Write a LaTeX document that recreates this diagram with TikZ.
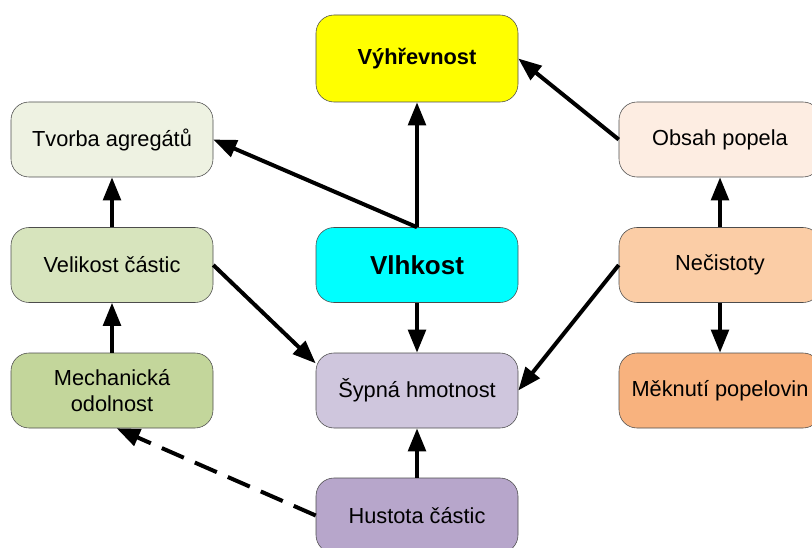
\documentclass[tikz,border=0pt]{standalone}
\usepackage{fontspec}
\setmainfont{Liberation Sans}
\usetikzlibrary{arrows.meta}
\definecolor{vyhcol}{HTML}{FFFF00}
\definecolor{vlhcol}{HTML}{00FFFF}
\definecolor{tvocol}{HTML}{EEF2E2}
\definecolor{velcol}{HTML}{D7E4BD}
\definecolor{mechcol}{HTML}{C3D69B}
\definecolor{sypcol}{HTML}{CFC6DD}
\definecolor{huscol}{HTML}{B7A6CB}
\definecolor{obscol}{HTML}{FDEDE2}
\definecolor{neccol}{HTML}{FBCDA6}
\definecolor{mekcol}{HTML}{F8B27E}

\begin{document}
\begin{tikzpicture}[
        box/.style={draw=black!70, rounded corners=0.45cm, minimum width=5.05cm,
            minimum height=1.875cm, align=center, font=\fontsize{15.5}{18.5}\selectfont},
        arr/.style={line width=0.1cm, -{Triangle[length=0.58cm,width=0.44cm]}}]
                \useasboundingbox (0,0) rectangle (20.3,13.675);
                % top row
                \node[box, fill=vyhcol, minimum height=2.175cm, font=\fontsize{15.5}{18.5}\selectfont\bfseries] (vyh) at (10.425,12.2125) {Výhřevnost};
                \node[box, fill=tvocol] (tvo) at (2.8,10.1875) {Tvorba agregátů};
                \node[box, fill=obscol] (obs) at (18,10.1875) {Obsah popela};
                % middle row
                \node[box, fill=velcol] (vel) at (2.8,7.05) {Velikost částic};
                \node[box, fill=vlhcol, font=\fontsize{18.5}{22}\selectfont\bfseries] (vlh) at (10.425,7.05) {Vlhkost};
                \node[box, fill=neccol] (nec) at (18,7.05) {Nečistoty};
                % lower rows
                \node[box, fill=mechcol] (mech) at (2.8,3.9125) {Mechanická\\odolnost};
                \node[box, fill=sypcol] (syp) at (10.425,3.9125) {Šypná hmotnost};
                \node[box, fill=mekcol] (mek) at (18,3.9125) {Měknutí popelovin};
                \node[box, fill=huscol] (hus) at (10.425,0.7875) {Hustota částic};
                % \node[box] (x) at (18,0.7875) {};
                \draw[arr] (vlh.north) -- (vyh.south);
                \draw[arr] (vlh.north) -- (tvo.east);
                \draw[arr] (obs.west) -- (vyh.east);
                \draw[arr] (nec.north) -- (obs.south);
                \draw[arr] (vel.north) -- (tvo.south);
                \draw[arr] (mech.north) -- (vel.south);
                \draw[arr] (vel.east) -- (syp.165);
                \draw[arr] (nec.west) -- (syp.east);
                \draw[arr] (vlh.south) -- (syp.north);
                \draw[arr] (nec.south) -- (mek.north);
                \draw[arr] (hus.north) -- (syp.south);
                \draw[arr, dash pattern=on 0.6cm off 0.3cm] (hus.west) -- (mech.-83);
            \end{tikzpicture}
\end{document}
